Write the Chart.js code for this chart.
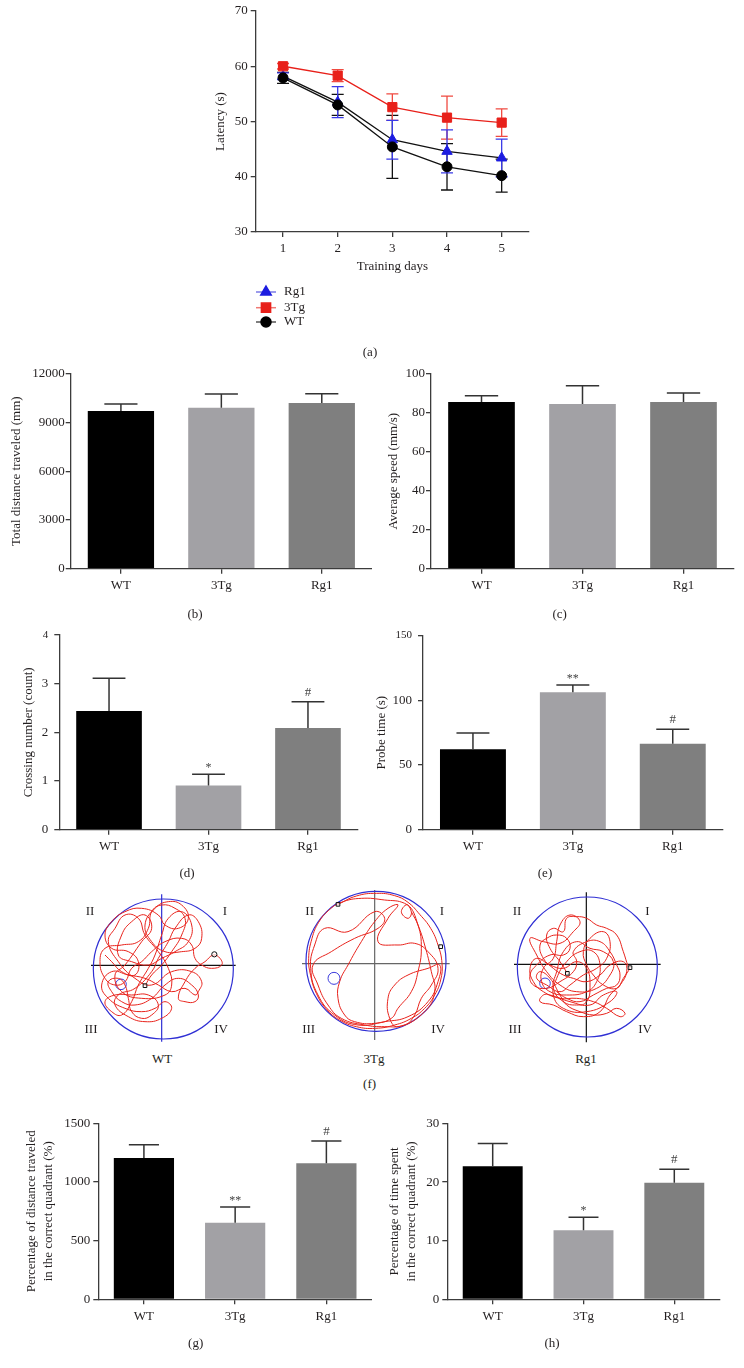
<!DOCTYPE html>
<html><head><meta charset="utf-8">
<script src="https://cdn.jsdelivr.net/npm/chart.js@4.4.1/dist/chart.umd.min.js"></script>
<style>
html,body{margin:0;padding:0;background:#fff;}
body{width:744px;height:1368px;position:relative;overflow:hidden;font-family:'Liberation Serif','Times New Roman',serif;}
canvas{position:absolute;}
.lbl{position:absolute;transform:translate(-50%,-50%);font-size:13px;color:#231f20;white-space:nowrap;line-height:1;}
</style></head><body>
<script>
// ---------- DATA ----------
const days = ['1','2','3','4','5'];
const rg1Latency = [58.2, 53.5, 46.7, 44.6, 43.4];
const rg1LatencyErr = [0.6, 2.8, 3.5, 3.9, 3.4];
const tgLatency = [60.0, 58.3, 52.6, 50.7, 49.8];
const tgLatencyErr = [0.5, 1.1, 2.4, 3.9, 2.5];
const wtLatency = [57.9, 53.0, 45.4, 41.8, 40.2];
const wtLatencyErr = [1.0, 1.9, 5.7, 4.2, 3.0];

const groups = ['WT','3Tg','Rg1'];
const distance = [9700, 9900, 10200];
const distanceErr = [430, 850, 560];
const speed = [85.5, 84.4, 85.5];
const speedErr = [3.2, 9.4, 4.6];
const crossing = [2.44, 0.91, 2.09];
const crossingErr = [0.67, 0.23, 0.54];
const crossingSig = ['', '*', '#'];
const probe = [62.1, 106.2, 66.5];
const probeErr = [12.6, 5.7, 11.1];
const probeSig = ['', '**', '#'];
const distQuad = [1205, 653, 1160];
const distQuadErr = [112, 134, 190];
const distQuadSig = ['', '**', '#'];
const timeQuad = [22.7, 11.8, 19.9];
const timeQuadErr = [3.9, 2.2, 2.3];
const timeQuadSig = ['', '*', '#'];

// swim paths (arena crop units)
const wtPath = [[180,302],[200,270],[230,240],[260,200],[290,150],[300,100],[270,70],[230,60],[200,80],[190,130],[160,170],[110,180],[60,190],[45,230],[60,280],[90,300],[120,290],[140,250],[170,230],[200,200],[240,170],[290,160],[320,180],[330,220],[350,240],[380,250],[410,240],[405,220],[385,210],[360,230],[330,250],[300,290],[280,340],[300,350],[330,350],[340,330],[320,300],[280,280],[240,300],[200,340],[150,360],[110,350],[80,320],[70,290],[100,280],[120,300],[130,340],[140,380],[170,400],[200,390],[220,360],[190,330],[140,330],[90,330],[60,350],[80,380],[110,390],[140,350],[160,300],[190,250],[210,210],[230,150],[250,100],[290,80],[320,120],[310,170],[270,200],[230,220],[190,240],[140,230],[100,210],[110,150],[140,110],[180,90],[200,130],[170,170],[120,240],[90,270],[110,320],[170,340],[240,330],[260,300],[250,250],[220,200],[180,150],[160,100],[120,90],[90,130],[70,170],[100,230],[150,280],[200,300],[260,260],[320,260],[350,290],[340,320],[330,330],[300,310],[260,320],[220,300],[180,280],[130,270],[80,260],[50,300],[70,340],[120,370],[170,380],[210,370],[240,350],[260,370],[230,400],[180,410],[130,395],[90,360],[100,330],[150,310],[200,260],[220,220],[250,170],[270,130],[310,90],[340,110],[350,160],[330,190],[290,200],[240,200],[200,170],[180,120],[210,70],[250,50],[290,60],[310,100],[280,130],[240,120],[220,90],[170,70],[120,80],[80,110],[60,150],[80,190],[130,200],[160,230],[150,270],[110,260],[80,230],[60,210]];
const tgPath = [[120,58],[175,33],[235,25],[290,32],[330,52],[365,88],[398,130],[420,180],[432,235],[428,285],[410,330],[380,370],[340,400],[290,420],[232,430],[175,425],[125,405],[85,372],[55,325],[38,272],[32,220],[42,160],[62,112],[92,76],[130,52],[190,40],[260,45],[320,55],[340,80],[330,100],[310,80],[330,60],[360,120],[370,190],[360,260],[340,320],[300,370],[280,400],[230,415],[170,410],[140,390],[120,340],[125,290],[150,240],[190,170],[230,110],[270,70],[300,60],[270,100],[240,170],[300,180],[350,175],[390,200],[420,250],[400,300],[370,340],[350,390],[320,420],[260,425],[200,420],[130,400],[90,360],[60,300],[45,240],[100,200],[170,160],[240,130],[260,100],[230,80],[150,140],[80,130],[50,180],[38,250],[60,330],[110,390],[180,420],[260,410],[330,395],[390,350],[420,290],[425,240],[390,250],[330,270],[290,300],[270,340],[275,400],[300,425],[380,380],[410,320],[400,260],[380,180],[360,120],[340,80]];
const rg1Path = [[172,265],[150,230],[120,190],[110,150],[130,130],[160,140],[170,100],[200,95],[230,100],[260,120],[290,130],[320,150],[340,200],[355,245],[360,248],[340,280],[320,310],[280,300],[250,270],[230,240],[220,200],[240,160],[280,140],[300,170],[290,220],[260,250],[220,270],[180,300],[150,320],[110,300],[80,280],[90,260],[120,280],[150,330],[170,360],[210,380],[250,390],[290,385],[320,370],[345,385],[330,395],[290,370],[250,350],[200,340],[150,340],[100,320],[70,290],[60,250],[80,220],[120,240],[160,250],[200,230],[230,250],[240,300],[230,350],[200,360],[160,350],[130,310],[140,260],[160,200],[200,170],[240,190],[280,200],[310,230],[300,270],[260,310],[200,320],[150,300],[110,260],[80,210],[60,160],[100,170],[150,175],[190,140],[210,110],[180,90],[150,120],[140,170],[130,220],[100,250],[95,290],[120,320],[170,330],[230,320],[260,290],[270,240],[250,200],[210,200],[170,230],[140,280],[130,330],[160,370],[230,380],[300,350],[320,320],[280,330],[240,360],[180,350],[120,330],[100,330],[90,350],[130,360],[170,380],[220,395],[270,380],[300,330],[330,300],[350,260],[340,230],[300,240],[270,270],[230,290],[190,280],[160,270],[130,250],[100,220],[90,180],[110,160],[140,150],[170,160],[180,190],[160,210],[120,210],[80,240],[60,270],[70,300],[110,310],[150,290],[190,260],[200,230],[190,200],[230,170],[270,170],[300,200],[320,240],[330,270],[320,300],[290,310],[250,330],[210,350],[170,340],[140,320]];

// ---------- STYLE ----------
const FONT = "'Liberation Serif', 'Times New Roman', serif";
const TXT = '#231f20';
const AXIS = '#3c3c3c';
const barColors = ['#000000', '#a2a1a5', '#7f7f7f'];

function makeCanvas(x,y,w,h){
  const c=document.createElement('canvas');
  c.width=w;c.height=h;c.style.left=x+'px';c.style.top=y+'px';c.style.width=w+'px';c.style.height=h+'px';
  document.body.appendChild(c);return c;
}

const errorBarPlugin={id:'errbars',afterDatasetsDraw(chart){
  const ctx=chart.ctx, meta=chart.getDatasetMeta(0), ds=chart.data.datasets[0], ys=chart.scales.y;
  ctx.save();
  meta.data.forEach((bar,i)=>{
    const v=ds.data[i], e=ds.errors[i], x=bar.x;
    const yTop=ys.getPixelForValue(v+e), yv=ys.getPixelForValue(v), hw=bar.width/4;
    ctx.strokeStyle='#333';ctx.lineWidth=1.5;
    ctx.beginPath();ctx.moveTo(x,yv);ctx.lineTo(x,yTop);ctx.moveTo(x-hw,yTop);ctx.lineTo(x+hw,yTop);ctx.stroke();
    if(ds.sig && ds.sig[i]){
      const s=ds.sig[i];
      ctx.fillStyle='#444';ctx.textAlign='center';ctx.textBaseline='alphabetic';
      ctx.font=(s.includes('*')?'12px ':'13px ')+FONT;
      ctx.fillText(s,x,yTop-(s.includes('*')?3:6));
    }
  });
  ctx.restore();
}};

function barChart(rect, area, values, errors, sig, yMax, yStep, yTitle, titlePad, tickPad, smallTop){
  const [cx,cy,cw,ch]=rect, [L,T,R,B]=area;
  const c=makeCanvas(cx,cy,cw,ch);
  return new Chart(c,{type:'bar',
    data:{labels:groups,datasets:[{data:values,backgroundColor:barColors,borderWidth:0,barPercentage:0.66,categoryPercentage:1,errors:errors,sig:sig}]},
    options:{responsive:false,animation:false,events:[],
      layout:{autoPadding:false,padding:{left:0,top:T-cy,right:cx+cw-R,bottom:0}},
      plugins:{legend:{display:false},tooltip:{enabled:false}},
      scales:{
        x:{offset:true,
          grid:{display:true,offset:false,drawOnChartArea:false,drawTicks:true,tickLength:5,color:AXIS,lineWidth:1.3},
          border:{display:true,color:AXIS,width:1.3},
          ticks:{color:TXT,font:{family:FONT,size:13},padding:4.5},
          afterFit:s=>{s.height=cy+ch-B;}},
        y:{min:0,max:yMax,
          ticks:{stepSize:yStep,color:TXT,padding:tickPad,callback:v=>String(v),
            font:(ctx)=>({family:FONT,size:(smallTop && ctx.tick && ctx.tick.value===yMax)?11:13})},
          grid:{display:true,drawOnChartArea:false,drawTicks:true,tickLength:5,color:AXIS,lineWidth:1.3},
          border:{display:true,color:AXIS,width:1.3},
          title:{display:true,text:yTitle,color:TXT,font:{family:FONT,size:13,lineHeight:1.25},padding:{top:titlePad,bottom:0}},
          afterFit:s=>{s.width=L-cx;}}
      }},
    plugins:[errorBarPlugin]});
}

// ---------- (a) line chart ----------
(function(){
  const cx=200,cy=0,cw=345,ch=340; const L=255.7,T=11,R=529,B=232; const xH=45;
  const c=makeCanvas(cx,cy,cw,ch);
  const series=[
    {label:'WT',data:wtLatency,errors:wtLatencyErr,borderColor:'#111',pointStyle:'circle',pointRadius:5,pointBackgroundColor:'#000',pointBorderColor:'#000',errColor:'#111',legLine:'#555'},
    {label:'3Tg',data:tgLatency,errors:tgLatencyErr,borderColor:'#e8201a',pointStyle:'rect',pointRadius:6.5,pointBackgroundColor:'#e8201a',pointBorderColor:'#e8201a',errColor:'#f04a40',legLine:'#f07a74'},
    {label:'Rg1',data:rg1Latency,errors:rg1LatencyErr,borderColor:'#111',pointStyle:'triangle',pointRadius:6,pointBackgroundColor:'#1c1ce0',pointBorderColor:'#1c1ce0',errColor:'#3a3ae8',legLine:'#7a7ae6'}
  ];
  const lineErr={id:'lineErr',beforeDatasetsDraw(chart){
    const ctx=chart.ctx, ys=chart.scales.y;
    ctx.save();ctx.lineWidth=1.3;
    chart.data.datasets.forEach((ds,di)=>{
      const meta=chart.getDatasetMeta(di);
      ctx.strokeStyle=ds.errColor;
      meta.data.forEach((p,i)=>{
        const y1=ys.getPixelForValue(ds.data[i]+ds.errors[i]), y2=ys.getPixelForValue(ds.data[i]-ds.errors[i]);
        ctx.beginPath();ctx.moveTo(p.x,y1);ctx.lineTo(p.x,y2);
        ctx.moveTo(p.x-6,y1);ctx.lineTo(p.x+6,y1);ctx.moveTo(p.x-6,y2);ctx.lineTo(p.x+6,y2);ctx.stroke();
      });
    });
    ctx.restore();
  },
  afterDraw(chart){
    const ctx=chart.ctx; const order=[2,1,0]; const ys=[292,307.7,322];
    ctx.save();
    order.forEach((di,k)=>{
      const ds=chart.data.datasets[di]; const y=ys[k]-cy;
      ctx.strokeStyle=ds.legLine;ctx.lineWidth=1.5;
      ctx.beginPath();ctx.moveTo(56,y);ctx.lineTo(76,y);ctx.stroke();
      ctx.fillStyle=ds.pointBackgroundColor;ctx.strokeStyle=ds.pointBorderColor;
      Chart.helpers.drawPoint(ctx,{pointStyle:ds.pointStyle,radius:ds.pointRadius,rotation:0,borderWidth:1},66,y);
      ctx.fillStyle=TXT;ctx.font='13px '+FONT;ctx.textAlign='left';ctx.textBaseline='middle';
      ctx.fillText(ds.label,84,y);
    });
    ctx.restore();
  }};
  new Chart(c,{type:'line',
    data:{labels:days,datasets:series.map(s=>Object.assign({borderWidth:1.3,tension:0,fill:false,pointBorderWidth:1},s))},
    options:{responsive:false,animation:false,events:[],
      layout:{autoPadding:false,padding:{left:0,top:T-cy,right:cx+cw-R,bottom:cy+ch-B-xH}},
      plugins:{legend:{display:false},tooltip:{enabled:false}},
      scales:{
        x:{offset:true,
          grid:{display:true,offset:false,drawOnChartArea:false,drawTicks:true,tickLength:5,color:AXIS,lineWidth:1.3},
          border:{display:true,color:AXIS,width:1.3},
          ticks:{color:TXT,font:{family:FONT,size:13},padding:3.5},
          title:{display:true,text:'Training days',color:TXT,font:{family:FONT,size:13},padding:{top:0,bottom:2.5}},
          afterFit:s=>{s.height=xH;}},
        y:{min:30,max:70,
          ticks:{stepSize:10,color:TXT,padding:3,font:{family:FONT,size:13}},
          grid:{display:true,drawOnChartArea:false,drawTicks:true,tickLength:5,color:AXIS,lineWidth:1.3},
          border:{display:true,color:AXIS,width:1.3},
          title:{display:true,text:'Latency (s)',color:TXT,font:{family:FONT,size:13},padding:{top:12.9,bottom:0}},
          afterFit:s=>{s.width=L-cx;}}
      }},
    plugins:[lineErr]});
})();

// ---------- bar panels ----------
barChart([0,355,372,254],[70.7,373.7,372,568.7],distance,distanceErr,null,12000,3000,'Total distance traveled (mm)',8.9,1,false);
barChart([372,355,372,254],[431,373.7,734,568.7],speed,speedErr,null,100,20,'Average speed (mm/s)',13.9,1,false);
barChart([0,620,372,250],[59.3,635,357.7,829.7],crossing,crossingErr,crossingSig,4,1,'Crossing number (count)',20.2,6,true);
barChart([372,620,372,250],[423,635.6,722.7,829.7],probe,probeErr,probeSig,150,50,'Probe time (s)',1.2,6,true);
barChart([0,1105,372,232],[98.3,1123.3,372,1299.3],distQuad,distQuadErr,distQuadSig,1500,500,['Percentage of distance traveled','in the correct quadrant (%)'],23.9,3,false);
barChart([372,1105,372,232],[447.3,1123.5,719.7,1299.3],timeQuad,timeQuadErr,timeQuadSig,30,10,['Percentage of time spent','in the correct quadrant (%)'],14.9,3,false);

// ---------- (f) swim paths ----------
function arena(cx, path, center, hline, vline, crossColors, platform, markers){
  const c=makeCanvas(cx,885,160,165);
  const pts=a=>a.map(p=>({x:p[0],y:p[1]}));
  new Chart(c,{type:'scatter',
    data:{datasets:[
      {data:pts(markers.map(m=>[m[0],m[1]])),pointStyle:markers.map(m=>m[2]),pointRadius:2.6,pointBackgroundColor:'rgba(255,255,255,0.6)',pointBorderColor:'#111',pointBorderWidth:1,showLine:false,clip:false},
      {data:pts(path),showLine:true,borderColor:'#e8231c',borderWidth:1,pointRadius:0,tension:0.45,clip:false},
      {data:pts([platform]),pointRadius:platform[2],pointBackgroundColor:'rgba(0,0,0,0)',pointBorderColor:'#3b3bdc',pointBorderWidth:1,showLine:false,clip:false},
      {data:pts([center]),pointRadius:70,pointBackgroundColor:'rgba(0,0,0,0)',pointBorderColor:'#2f2fd4',pointBorderWidth:1.2,showLine:false,clip:false},
      {data:pts(hline),showLine:true,borderColor:crossColors[0],borderWidth:1.2,pointRadius:0,clip:false},
      {data:pts(vline),showLine:true,borderColor:crossColors[1],borderWidth:1.2,pointRadius:0,clip:false}
    ]},
    options:{responsive:false,animation:false,events:[],layout:{autoPadding:false,padding:0},
      plugins:{legend:{display:false},tooltip:{enabled:false}},
      scales:{x:{display:false,min:0,max:480},y:{display:false,min:0,max:495,reverse:true}}}});
}
arena(85,wtPath,[235,252],[[18,241],[452,241]],[[230,28],[230,470]],['#111','#2f2fd4'],[108,298,5.3],[[180,302,'rect'],[388,208,'circle']]);
arena(298,tgPath,[234,229],[[12,236],[455,236]],[[230,15],[230,465]],['#666','#666'],[108,280,6],[[120,58,'rect'],[428,185,'rect']]);
arena(510,rg1Path,[232,246],[[12,238],[452,238]],[[229,22],[229,472]],['#111','#111'],[105,295,5.3],[[172,265,'rect'],[360,248,'rect']]);

// ---------- text labels ----------
const labels=[
 ['(a)',370,351],['(b)',195,612.7],['(c)',559.7,612.7],['(d)',187,872.3],['(e)',545,872.3],['(f)',369.6,1083.3],['(g)',195.7,1341.7],['(h)',552,1341.7],
 ['WT',162,1058],['3Tg',374,1058],['Rg1',586,1058],
 ['II',90,910],['I',225,910],['III',91,1027.7],['IV',221,1027.7],
 ['II',309.7,910],['I',442,910],['III',308.7,1027.7],['IV',438,1027.7],
 ['II',517,910],['I',647.3,910],['III',515,1027.7],['IV',645,1027.7]
];
labels.forEach(([t,x,y])=>{const d=document.createElement('div');d.className='lbl';d.textContent=t;d.style.left=x+'px';d.style.top=y+'px';document.body.appendChild(d);});
</script>
</body></html>
